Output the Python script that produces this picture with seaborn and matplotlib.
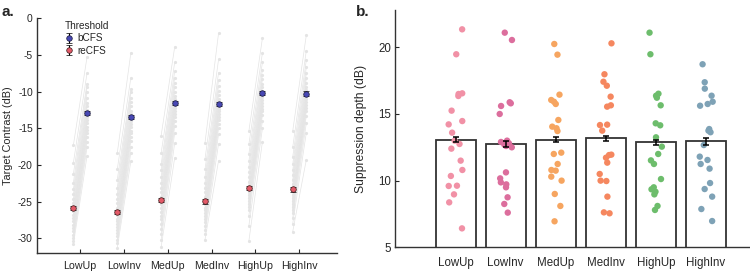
import numpy as np
import pandas as pd
import seaborn as sns
import matplotlib.pyplot as plt

conditions = ["LowUp", "LowInv", "MedUp", "MedInv", "HighUp", "HighInv"]

# panel a: per-subject thresholds (dB), ordered top to bottom
bcfs_low_up = [-5.3, -7.5, -8.9, -9.4, -10.1, -10.9, -11.6, -12.0, -12.5, -13.0,
               -13.4, -13.9, -14.3, -14.8, -15.2, -15.7, -16.2, -16.9, -17.6, -18.8]
bcfs_low_inv = [-4.7, -8.1, -9.6, -10.1, -10.8, -11.4, -12.0, -12.6, -13.1, -13.6,
                -14.0, -14.4, -14.8, -15.3, -15.7, -16.2, -16.7, -17.5, -18.3, -19.5]
bcfs_med_up = [-3.9, -6.0, -7.2, -8.1, -8.8, -9.4, -10.0, -10.6, -11.0, -11.4,
               -11.8, -12.2, -12.6, -13.0, -13.5, -14.0, -14.7, -15.6, -17.0, -19.0]
bcfs_med_inv = [-2.0, -5.6, -7.4, -8.4, -9.2, -9.9, -10.5, -11.0, -11.5, -11.9,
                -12.3, -12.7, -13.1, -13.5, -13.9, -14.4, -15.0, -15.8, -17.1, -19.4]
bcfs_high_up = [-2.7, -4.7, -6.0, -7.0, -7.7, -8.3, -8.9, -9.4, -9.9, -10.3,
                -10.7, -11.1, -11.5, -11.9, -12.3, -12.7, -13.2, -14.0, -15.0, -16.8]
bcfs_high_inv = [-2.3, -4.4, -5.7, -6.7, -7.5, -8.2, -8.8, -9.3, -9.8, -10.2,
                 -10.6, -11.0, -11.4, -11.8, -12.2, -12.7, -13.3, -14.3, -15.6, -19.3]

recfs_low_up = [-17.3, -19.7, -21.2, -22.4, -23.3, -24.0, -24.6, -25.2, -25.8, -26.3,
                -26.8, -27.2, -27.7, -28.2, -28.6, -29.0, -29.5, -29.9, -30.3, -30.8]
recfs_low_inv = [-18.4, -20.6, -22.0, -23.1, -23.9, -24.6, -25.2, -25.8, -26.3, -26.8,
                 -27.3, -27.7, -28.1, -28.5, -28.9, -29.3, -29.7, -30.2, -30.7, -31.3]
recfs_med_up = [-16.0, -18.4, -19.9, -20.7, -21.6, -22.4, -23.1, -23.7, -24.3, -24.8,
                -25.3, -25.9, -26.4, -26.9, -27.4, -28.1, -28.7, -29.4, -30.2, -31.2]
recfs_med_inv = [-17.0, -19.2, -20.6, -21.6, -22.4, -23.1, -23.7, -24.3, -24.8, -25.3,
                 -25.8, -26.2, -26.6, -27.0, -27.4, -27.8, -28.3, -28.8, -29.4, -30.2]
recfs_high_up = [-15.4, -17.2, -18.5, -19.5, -20.3, -21.0, -21.7, -22.3, -22.8, -23.3,
                 -23.7, -24.1, -24.5, -24.9, -25.3, -25.7, -26.2, -26.9, -28.3, -30.4]
recfs_high_inv = [-15.4, -17.6, -18.9, -19.9, -20.7, -21.4, -22.0, -22.6, -23.1, -23.6,
                  -24.1, -24.5, -24.9, -25.3, -25.7, -26.1, -26.6, -27.2, -28.0, -29.1]

bcfs_err = [0.30, 0.30, 0.28, 0.28, 0.28, 0.30]
recfs_err = [0.30, 0.28, 0.28, 0.28, 0.28, 0.30]

# panel b: suppression depth per subject (dB)
depth_low_up = [21.35, 19.48, 16.55, 16.5, 16.35, 15.25, 14.47, 14.22, 13.6, 13.0,
                12.75, 12.4, 11.5, 10.8, 10.35, 9.62, 9.6, 8.97, 8.37, 6.42]
depth_low_inv = [21.1, 20.55, 15.88, 15.8, 15.6, 15.0, 13.0, 12.9, 12.8, 12.7,
                 12.6, 12.5, 10.62, 10.17, 9.87, 9.72, 9.5, 8.75, 8.25, 7.6]
depth_med_up = [20.25, 19.45, 16.45, 16.05, 15.92, 15.75, 14.55, 14.05, 13.93, 13.72,
                12.1, 12.0, 11.25, 10.8, 10.75, 10.3, 10.0, 9.0, 8.1, 6.95]
depth_med_inv = [20.3, 17.98, 17.42, 17.12, 16.3, 15.65, 15.55, 14.17, 14.2, 13.75,
                 11.92, 11.95, 11.72, 11.35, 10.5, 9.97, 10.0, 8.8, 7.62, 7.55]
depth_high_up = [21.1, 19.48, 16.52, 16.37, 16.22, 15.65, 14.3, 14.15, 13.25, 12.55,
                 12.0, 11.52, 11.25, 10.12, 9.5, 9.35, 9.17, 8.97, 8.1, 7.8]
depth_high_inv = [18.73, 17.38, 16.9, 16.37, 15.92, 15.75, 15.62, 13.87, 13.75, 13.63,
                  12.67, 11.8, 11.55, 11.25, 10.9, 9.82, 9.37, 8.8, 7.87, 6.97]
depth_err = [0.2, 0.2, 0.18, 0.18, 0.2, 0.25]

point_colors = ["#f191a6", "#dc6e9d", "#f6a560", "#f5875f", "#6dbd6c", "#7ea2b6"]

bcfs = [bcfs_low_up, bcfs_low_inv, bcfs_med_up, bcfs_med_inv, bcfs_high_up, bcfs_high_inv]
recfs = [recfs_low_up, recfs_low_inv, recfs_med_up, recfs_med_inv, recfs_high_up, recfs_high_inv]
depth = [depth_low_up, depth_low_inv, depth_med_up, depth_med_inv, depth_high_up, depth_high_inv]

rows = []
for ci, cond in enumerate(conditions):
    for s, (r, b) in enumerate(zip(recfs[ci], bcfs[ci])):
        rows.append({"unit": f"{cond}_{s}", "x": ci + 1 - 0.15, "value": r})
        rows.append({"unit": f"{cond}_{s}", "x": ci + 1 + 0.16, "value": b})
dfa = pd.DataFrame(rows)

dfb = pd.DataFrame({
    "condition": np.repeat(conditions, [len(d) for d in depth]),
    "depth": np.concatenate(depth),
})

sns.set_style("ticks")
plt.rcParams["font.family"] = ["Liberation Sans", "DejaVu Sans"]
plt.rcParams["axes.unicode_minus"] = False

fig = plt.figure(figsize=(7.5, 2.74), dpi=100)
ax1 = fig.add_axes([37 / 750, 1 - 253 / 274, 300 / 750, (253 - 18.3) / 274])
ax2 = fig.add_axes([395 / 750, 1 - 247.3 / 274, 354 / 750, (247.3 - 10) / 274])

# ---- panel a
sns.lineplot(data=dfa, x="x", y="value", units="unit", estimator=None, sort=False,
             color="#e4e4e4", linewidth=0.5, marker="o", markersize=2.3,
             markeredgewidth=0, ax=ax1)
pos = np.arange(1, 7)
ax1.errorbar(pos + 0.16, [np.mean(v) for v in bcfs], yerr=bcfs_err, fmt="o",
             mfc="#4848b4", mec="#1a1a3a", mew=0.5, ms=4, ecolor="black",
             elinewidth=0.8, capsize=2, capthick=0.8, zorder=5, label="bCFS")
ax1.errorbar(pos - 0.15, [np.mean(v) for v in recfs], yerr=recfs_err, fmt="o",
             mfc="#e35a68", mec="#3a1a1a", mew=0.5, ms=4, ecolor="black",
             elinewidth=0.8, capsize=2, capthick=0.8, zorder=5, label="reCFS")
ax1.set_xlim(0.02, 6.86)
ax1.set_ylim(-32, 0)
ax1.set_xticks(pos)
ax1.set_xticklabels(conditions)
ax1.set_yticks([-30, -25, -20, -15, -10, -5, 0])
ax1.set_xlabel("")
ax1.set_ylabel("Target Contrast (dB)", fontsize=7.8)
ax1.yaxis.set_label_coords(-0.08, 0.5)
ax1.tick_params(direction="in", length=3, width=0.8, labelsize=7.7)
ax1.tick_params(axis="x", pad=6)
ax1.tick_params(axis="y", pad=3, labelsize=7.4)
leg = ax1.legend(title="Threshold", loc="upper left", bbox_to_anchor=(0.07, 1.02),
                 frameon=False, fontsize=7.2, title_fontsize=7.2, handlelength=0.8,
                 handletextpad=0.4, borderpad=0.2, labelspacing=0.25)
leg._legend_box.align = "left"

# ---- panel b
sns.barplot(data=dfb, x="condition", y="depth", order=conditions, errorbar=None,
            color="white", edgecolor="#333333", linewidth=1.3, width=0.8, ax=ax2)
ax2.errorbar(np.arange(6), dfb.groupby("condition", sort=False)["depth"].mean(),
             yerr=depth_err, fmt="none", ecolor="black", elinewidth=1.1,
             capsize=2.5, capthick=1.1, zorder=6)
np.random.seed(4)
sns.stripplot(data=dfb, x="condition", y="depth", hue="condition", order=conditions,
              hue_order=conditions, palette=point_colors, jitter=0.14, size=4.6,
              linewidth=0, legend=False, ax=ax2, zorder=4)
ax2.set_xlim(-1.21, 5.86)
ax2.set_ylim(5, 22.8)
ax2.set_yticks([5, 10, 15, 20])
ax2.set_xlabel("")
ax2.set_ylabel("Suppression depth (dB)", fontsize=8.7)
ax2.yaxis.set_label_coords(-0.079, 0.5)
ax2.tick_params(direction="in", length=3, width=0.8, labelsize=8.3)
ax2.tick_params(axis="x", pad=7)
ax2.tick_params(axis="y", pad=3)

for ax in (ax1, ax2):
    sns.despine(ax=ax)
    for sp in ("left", "bottom"):
        ax.spines[sp].set_color("#333333")
        ax.spines[sp].set_linewidth(1.0)

fig.text(2 / 750, 1 - 16 / 274, "a.", fontsize=11, fontweight="bold", va="baseline")
fig.text(356 / 750, 1 - 16 / 274, "b.", fontsize=11, fontweight="bold", va="baseline")

fig.savefig("out.png", dpi=100)
